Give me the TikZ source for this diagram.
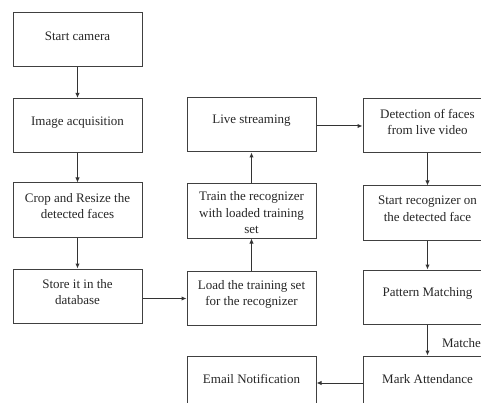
\documentclass[tikz,border=0pt]{standalone}
\usepackage{fontspec}
\setmainfont{Liberation Serif}
\usetikzlibrary{arrows.meta}
\begin{document}
\begin{tikzpicture}[x=1pt,y=-1pt,
  box/.style={draw=black!75,line width=1pt,minimum width=129pt,minimum height=54pt,inner sep=0pt},
  txt/.style={font=\fontsize{13}{16.5}\selectfont,text=black!85,align=center,inner sep=0pt},
  arr/.style={draw=black!80,line width=1pt,-{Latex[length=5pt,width=4.5pt]}}]
\useasboundingbox (0,0) rectangle (481,403);
\clip (0,0) rectangle (481,403);
% column 1
\node[box] (sc) at (77.5,40) {};
\node[txt] at ([yshift=4pt]sc.center) {Start camera};
\node[box] (ia) at (77.5,125.5) {};
\node[txt] at ([yshift=3pt]ia.center) {Image acquisition};
\node[box] (cr) at (77.5,210) {};
\node[txt] at ([yshift=4pt]cr.center) {Crop and Resize the\\detected faces};
\node[box] (st) at (77.5,296) {};
\node[txt] at ([yshift=4pt]st.center) {Store it in the\\database};
% column 2
\node[box] (ld) at (251.5,298.5) {};
\node[txt] at ([yshift=4pt]ld.center) {Load the training set\\for the recognizer};
\node[box] (tr) at (251.5,211) {};
\node[txt] at ([yshift=-2pt]tr.center) {Train the recognizer\\with loaded training\\set};
\node[box] (ls) at (251.5,125) {};
\node[txt] at ([yshift=4pt]ls.center) {Live streaming};
\node[box] (em) at (251.5,383) {};
\node[txt] at ([yshift=4pt]em.center) {Email Notification};
% column 3
\node[box] (df) at (427.5,126) {};
\node[txt] at ([yshift=4pt]df.center) {Detection of faces\\from live video};
\node[box] (sr) at (427.5,213) {};
\node[txt] at ([yshift=4pt]sr.center) {Start recognizer on\\the detected face};
\node[box] (pm) at (427.5,297) {};
\node[txt] at ([yshift=4pt]pm.center) {Pattern Matching};
\node[box] (ma) at (427.5,383) {};
\node[txt] at ([yshift=4pt]ma.center) {Mark Attendance};
% connectors
\draw[arr] (sc) -- (ia);
\draw[arr] (ia) -- (cr);
\draw[arr] (cr) -- (st);
\draw[arr] (st.east |- ld.west) -- (ld.west);
\draw[arr] (ld) -- (tr);
\draw[arr] (tr) -- (ls);
\draw[arr] (ls.east |- df.west) -- (df.west);
\draw[arr] (df) -- (sr);
\draw[arr] (sr) -- (pm);
\draw[arr] (pm) -- node[txt,right=14pt,pos=0.6]{Matche} (ma);
\draw[arr] (ma) -- (em);
\end{tikzpicture}
\end{document}
